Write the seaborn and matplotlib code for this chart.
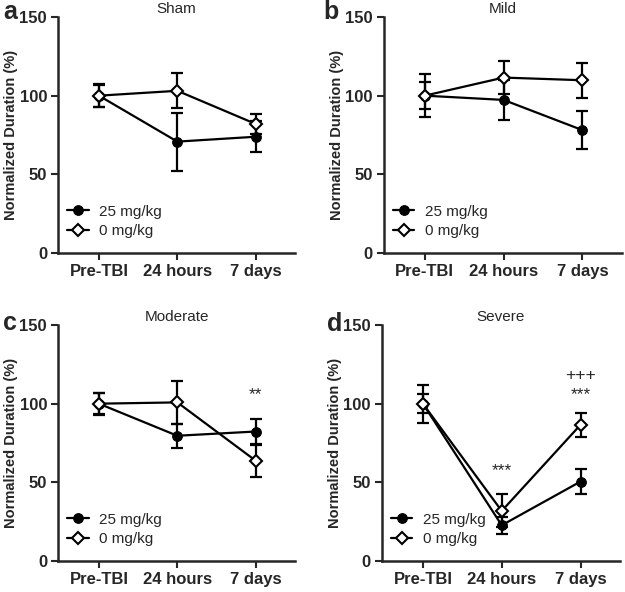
import pandas as pd
import seaborn as sns
import matplotlib.pyplot as plt

# time points and injury groups
timepoints = ["Pre-TBI", "24 hours", "7 days"]
panels = ["Sham", "Mild", "Moderate", "Severe"]
letters = ["a", "b", "c", "d"]

# 25 mg/kg group: mean and SEM per panel
high_mean = {"Sham": [100, 70.8, 73.9], "Mild": [100, 97.3, 78.1],
             "Moderate": [100, 79.6, 82.3], "Severe": [100, 22.7, 50.5]}
high_sem = {"Sham": [7.3, 18.4, 9.7], "Mild": [13.8, 12.7, 12.3],
            "Moderate": [7.0, 7.7, 8.0], "Severe": [12.0, 5.5, 7.7]}

# 0 mg/kg group
zero_mean = {"Sham": [100, 103.1, 82.0], "Mild": [100, 111.5, 109.8],
             "Moderate": [100, 100.8, 63.7], "Severe": [100, 31.8, 86.6]}
zero_sem = {"Sham": [7.0, 11.1, 6.6], "Mild": [8.5, 10.6, 11.0],
            "Moderate": [6.5, 13.5, 10.0], "Severe": [6.0, 10.5, 7.6]}

# significance marks (panel, time point, y, text)
marks = [("Moderate", "7 days", 105.5, "**"),
         ("Severe", "24 hours", 57.5, "***"),
         ("Severe", "7 days", 106, "***"),
         ("Severe", "7 days", 117.7, "+++")]

sns.set_style("ticks")
plt.rcParams["font.family"] = ["Liberation Sans", "DejaVu Sans"]

fig = plt.figure(figsize=(6.25, 5.92), dpi=100)
# axes boxes in figure fractions
boxes = [(0.093, 0.5726, 0.379, 0.3987), (0.614, 0.5726, 0.381, 0.3987),
         (0.093, 0.0524, 0.379, 0.3986), (0.611, 0.0524, 0.381, 0.3986)]
letter_pos = [(0.005, 0.968), (0.518, 0.968), (0.005, 0.443), (0.524, 0.441)]

for name, box, letter, lpos in zip(panels, boxes, letters, letter_pos):
    ax = fig.add_axes(box)
    df = pd.DataFrame({"time": timepoints * 2,
                       "value": high_mean[name] + zero_mean[name],
                       "dose": ["25 mg/kg"] * 3 + ["0 mg/kg"] * 3})
    x = list(range(len(timepoints)))

    # 25 mg/kg: filled circles
    ax.errorbar(x, high_mean[name], yerr=high_sem[name], fmt="none",
                ecolor="black", elinewidth=1.6, capsize=4, capthick=1.6, zorder=2)
    sns.lineplot(data=df[df["dose"] == "25 mg/kg"], x="time", y="value",
                 sort=False, color="black", linewidth=1.6, marker="o",
                 markersize=7, markerfacecolor="black", markeredgecolor="black",
                 label="25 mg/kg", ax=ax, zorder=3)
    # 0 mg/kg: open diamonds
    ax.errorbar(x, zero_mean[name], yerr=zero_sem[name], fmt="none",
                ecolor="black", elinewidth=1.6, capsize=4, capthick=1.6, zorder=4)
    sns.lineplot(data=df[df["dose"] == "0 mg/kg"], x="time", y="value",
                 sort=False, color="black", linewidth=1.6, marker="D",
                 markersize=6, markerfacecolor="white", markeredgecolor="black",
                 markeredgewidth=1.5, label="0 mg/kg", ax=ax, zorder=5)

    for pname, t, yv, txt in marks:
        if pname == name:
            ax.text(timepoints.index(t), yv, txt, ha="center", va="center",
                    fontsize=12.5)

    ax.set_xlim(-0.52, 2.5)
    ax.set_ylim(0, 150)
    ax.set_yticks([0, 50, 100, 150])
    ax.set_xlabel("")
    ax.set_ylabel("Normalized Duration (%)", fontsize=10.5, fontweight="bold",
                  labelpad=1)
    ax.set_title(name, fontsize=11, pad=3)
    for lab in ax.get_xticklabels() + ax.get_yticklabels():
        lab.set_fontweight("bold")
    ax.tick_params(axis="both", labelsize=12, width=1.5, length=5, pad=3)
    sns.despine(ax=ax)
    for sp in ["left", "bottom"]:
        ax.spines[sp].set_linewidth(1.8)
    ax.legend(loc="lower left", bbox_to_anchor=(0.0, 0.025), frameon=False,
              fontsize=11, handlelength=1.4, handletextpad=0.7,
              labelspacing=0.35, borderaxespad=0.2)
    fig.text(lpos[0], lpos[1], letter, fontsize=18, fontweight="bold",
             ha="left", va="baseline")

fig.savefig("out.png", dpi=100)
